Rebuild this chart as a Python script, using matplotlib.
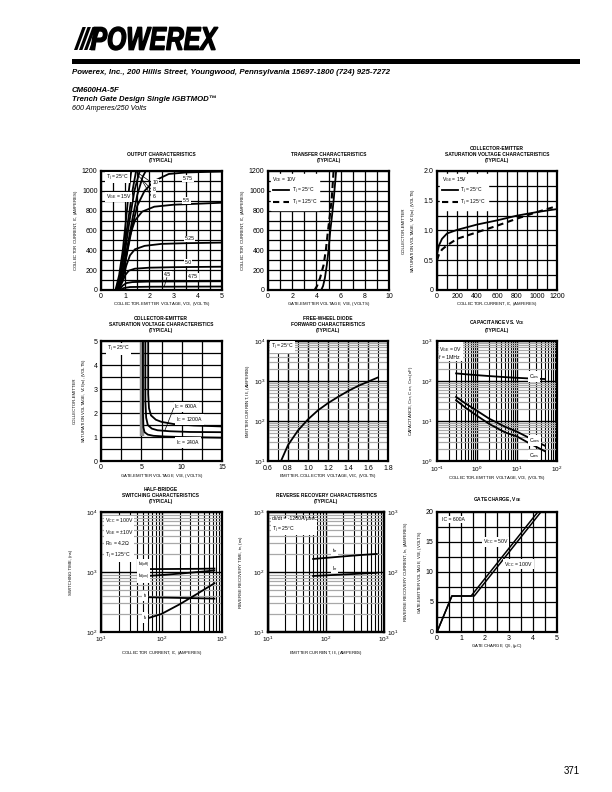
import matplotlib
matplotlib.use('Agg')
import matplotlib.pyplot as plt
from matplotlib.ticker import MultipleLocator, LogLocator, NullFormatter
from matplotlib.textpath import TextPath
from matplotlib.patches import PathPatch, Rectangle, Polygon
from matplotlib.font_manager import FontProperties
from matplotlib.transforms import Affine2D

plt.rcParams['font.family'] = ['Liberation Sans', 'DejaVu Sans']
plt.rcParams['mathtext.default'] = 'regular'

W, H = 612, 792

# ---- output characteristics, Tj = 25C ----
out_vce_15 = [0.6, 0.75, 0.9, 1.03, 1.15, 1.25]
out_ic_15 = [0, 150, 400, 700, 1000, 1200]
out_vce_10 = [0.62, 0.78, 0.95, 1.12, 1.3, 1.45]
out_ic_10 = [0, 150, 400, 700, 1000, 1200]
out_vce_8 = [0.64, 0.8, 1.0, 1.18, 1.38, 1.6]
out_ic_8 = [0, 150, 400, 700, 1000, 1200]
out_vce_6 = [0.66, 0.85, 1.08, 1.3, 1.5, 1.72, 1.85]
out_ic_6 = [0, 160, 420, 720, 960, 1140, 1200]
out_vce_575 = [0.68, 0.9, 1.1, 1.3, 1.5, 1.8, 2.2, 2.8, 3.5, 5.0]
out_ic_575 = [0, 150, 400, 650, 850, 1000, 1100, 1170, 1185, 1195]
out_vce_55 = [0.7, 0.9, 1.05, 1.2, 1.4, 1.7, 2.2, 3.0, 4.0, 5.0]
out_ic_55 = [0, 150, 350, 550, 700, 790, 840, 860, 870, 880]
out_vce_525 = [0.72, 0.9, 1.05, 1.2, 1.4, 1.8, 2.5, 3.5, 5.0]
out_ic_525 = [0, 120, 250, 350, 410, 445, 465, 472, 478]
out_vce_50 = [0.73, 0.9, 1.0, 1.15, 1.4, 2.0, 3.0, 5.0]
out_ic_50 = [0, 90, 150, 195, 215, 225, 230, 235]
out_vce_475 = [0.75, 0.9, 1.05, 1.3, 2.0, 5.0]
out_ic_475 = [0, 45, 70, 80, 85, 88]
out_vce_45 = [0.77, 0.95, 1.2, 2.0, 5.0]
out_ic_45 = [0, 20, 30, 33, 35]

# ---- transfer characteristics, VCE = 10V ----
tr_ic = [0, 40, 120, 250, 400, 590, 760, 925, 1200]
tr_vge_25 = [4.4, 4.55, 4.7, 4.86, 5.0, 5.14, 5.3, 5.44, 5.63]
tr_vge_125 = [3.85, 4.05, 4.3, 4.59, 4.78, 4.95, 5.12, 5.27, 5.42]

# ---- VCE(sat) vs IC ----
sat_ic = [0, 20, 50, 100, 200, 400, 600, 800, 1000, 1200]
sat_vce_25 = [0.6, 0.75, 0.86, 0.95, 1.01, 1.1, 1.17, 1.25, 1.31, 1.36]
sat_vce_125 = [0.5, 0.6, 0.68, 0.75, 0.86, 0.97, 1.08, 1.2, 1.31, 1.41]

# ---- VCE(sat) vs VGE ----
vs_vge_240 = [5.2, 5.2, 5.25, 5.4, 5.8, 6.5, 8.0, 10.0, 15.0]
vs_vce_240 = [5.0, 2.0, 1.4, 1.2, 1.1, 1.05, 1.02, 1.0, 0.97]
vs_vge_600 = [5.5, 5.5, 5.6, 5.8, 6.3, 7.0, 8.5, 11.0, 15.0]
vs_vce_600 = [5.0, 2.5, 1.8, 1.5, 1.35, 1.28, 1.24, 1.21, 1.2]
vs_vge_1200 = [5.85, 5.85, 5.95, 6.2, 6.8, 7.5, 9.0, 11.5, 15.0]
vs_vce_1200 = [5.0, 2.8, 2.2, 1.9, 1.72, 1.63, 1.54, 1.48, 1.44]
band_vge = [5.12, 5.12]
band_vce = [5.0, 1.05]

# ---- free-wheel diode forward ----
fwd_vec = [0.73, 0.8, 0.9, 1.0, 1.1, 1.2, 1.3, 1.4, 1.5, 1.6, 1.7]
fwd_ie = [10, 25, 58, 110, 185, 280, 400, 560, 750, 960, 1230]

# ---- capacitance ----
cap_vce = [0.3, 0.5, 1, 2, 5, 10, 20, 50]
cap_ies = [155, 148, 140, 133, 125, 120, 116, 112]
cap_oes = [40, 28, 18, 11.5, 7.2, 5.4, 3.8, 2.4]
cap_res = [33, 22, 13.5, 8.5, 5.2, 4.1, 2.8, 1.75]

# ---- half-bridge switching ----
sw_ic = [60, 100, 200, 400, 750]
sw_td_off = [1120, 1120, 1125, 1130, 1140]
sw_td_on = [860, 890, 940, 1000, 1060]
sw_tf = [380, 375, 370, 365, 360]
sw_tr = [170, 200, 290, 440, 650]

# ---- reverse recovery ----
rr_ie = [60, 100, 200, 400, 750]
rr_trr = [165, 172, 182, 192, 200]
rr_irr = [86, 88, 91, 94, 97]

# ---- gate charge ----
gc_q_50 = [0, 0.62, 1.42, 4.2]
gc_v_50 = [0, 6, 6, 20]
gc_q_100 = [0, 0.62, 1.55, 4.33]
gc_v_100 = [0, 6, 6, 20]

box = dict(facecolor='white', edgecolor='none', pad=0.6)
LW = 1.3


def add_axes_px(fig, x0, y0, x1, y1):
    return fig.add_axes([x0 / W, 1 - y1 / H, (x1 - x0) / W, (y1 - y0) / H])


def finish(ax, xlabel, ylabel, xlab_px, ylab_px, size=5):
    w = ax.get_position().width * W
    h = ax.get_position().height * H
    ax.set_xlabel(xlabel, fontsize=3.1, va='center')
    ax.set_ylabel(ylabel, fontsize=3.1, va='center', linespacing=1.6)
    ax.xaxis.set_label_coords(0.5, -xlab_px / h)
    ax.yaxis.set_label_coords(-ylab_px / w, 0.5)
    for s in ax.spines.values():
        s.set_linewidth(1.6)
    ax.tick_params(which='both', length=0, labelsize=size, pad=2.5)
    ax.tick_params(axis='x', pad=2.0 if size == 5 else 1.8)
    ax.set_axisbelow(True)


def lin_grid(ax, xstep, ystep):
    ax.xaxis.set_minor_locator(MultipleLocator(xstep))
    ax.yaxis.set_minor_locator(MultipleLocator(ystep))
    ax.grid(which='both', color='black', lw=0.9)


def log_grid(ax, xlog=True):
    if xlog:
        ax.xaxis.set_minor_locator(LogLocator(subs=range(2, 10)))
        ax.xaxis.set_minor_formatter(NullFormatter())
    ax.yaxis.set_minor_locator(LogLocator(subs=range(2, 10)))
    ax.yaxis.set_minor_formatter(NullFormatter())
    ax.grid(which='major', color='black', lw=1.0)
    ax.grid(which='minor', axis='x', color='black', lw=0.8)
    ax.grid(which='minor', axis='y', color='#a8a8a8', lw=0.9)


def title(fig, xc, top_px, text):
    fig.text(xc / W, 1 - (top_px - 8) / H, text, ha='center', va='bottom',
             fontsize=3.5, fontweight='bold', linespacing=1.3)


fig = plt.figure(figsize=(6.12, 7.92), dpi=100)

# ---- header ----
fp = FontProperties(family='Liberation Sans', weight='bold', style='italic')
tp = TextPath((0, 0), "POWEREX", size=10, prop=fp)
bb = tp.get_extents()
sx = (218 - 91) / W / bb.width
sy = (50 - 27) / H / bb.height
trf = Affine2D().translate(-bb.x0, -bb.y0).scale(sx, sy).translate(91 / W, 1 - 50 / H) + fig.transFigure
fig.patches.append(PathPatch(tp, transform=trf, facecolor='black', edgecolor='black', lw=1.0))
for k in range(4):
    x0 = 74 + k * 5.0
    pts = [(x0, 50), (x0 + 3.4, 50), (x0 + 3.4 + 8.5, 27), (x0 + 8.5, 27)]
    fig.patches.append(Polygon([(px / W, 1 - py / H) for px, py in pts], closed=True,
                               transform=fig.transFigure, facecolor='black', edgecolor='none'))
fig.patches.append(Rectangle((72 / W, 1 - 64 / H), (580 - 72) / W, 5 / H,
                             transform=fig.transFigure, facecolor='black', edgecolor='none'))
fig.text(72 / W, 1 - 72 / H,
         "Powerex, Inc., 200 Hillis Street, Youngwood, Pennsylvania 15697-1800 (724) 925-7272",
         fontsize=5.7, fontweight='bold', fontstyle='italic', va='center')
fig.text(72 / W, 1 - 91 / H, "CM600HA-5F", fontsize=5.6, fontweight='bold', fontstyle='italic', va='center')
fig.text(72 / W, 1 - 99.5 / H, "Trench Gate Design Single IGBTMOD\u2122", fontsize=5.6,
         fontweight='bold', fontstyle='italic', va='center')
fig.text(72 / W, 1 - 109 / H, "600 Amperes/250 Volts", fontsize=5.2, fontstyle='italic', va='center')
fig.text(572 / W, 1 - 771 / H, "371", fontsize=7, ha='center', va='center')

# ---- 1: output characteristics ----
ax = add_axes_px(fig, 101, 171, 222, 290)
for xs, ys in [(out_vce_15, out_ic_15), (out_vce_10, out_ic_10), (out_vce_8, out_ic_8),
               (out_vce_6, out_ic_6), (out_vce_575, out_ic_575), (out_vce_55, out_ic_55),
               (out_vce_525, out_ic_525), (out_vce_50, out_ic_50), (out_vce_475, out_ic_475),
               (out_vce_45, out_ic_45)]:
    ax.plot(xs, ys, color='black', lw=LW)
ax.set_xlim(0, 5)
ax.set_ylim(0, 1200)
ax.set_xticks(range(0, 6))
ax.set_yticks(range(0, 1201, 200))
lin_grid(ax, 0.5, 100)
ax.text(0.2, 1135, "T$_j$ = 25\u00b0C", fontsize=3.7, va='center', bbox=box)
ax.text(0.2, 940, "V$_{GE}$ = 15V", fontsize=3.7, va='center', bbox=box)
for lab, y, (xa, ya) in [("10", 1085, (1.45, 1195)), ("8", 1015, (1.55, 1150)), ("6", 945, (1.68, 1110))]:
    ax.plot([xa, 2.08], [ya, y], color='black', lw=0.5)
    ax.text(2.12, y, lab, fontsize=3.7, va='center', bbox=box)
for lab, x, y in [("5.75", 3.4, 1125), ("5.5", 3.4, 905), ("5.25", 3.45, 515),
                  ("5.0", 3.45, 275), ("4.75", 3.6, 135)]:
    ax.text(x, y, lab, fontsize=3.7, va='center', bbox=box)
ax.plot([2.72, 2.62], [125, 40], color='black', lw=0.5)
ax.text(2.6, 160, "4.5", fontsize=3.7, va='center', bbox=box)
finish(ax, "COLLECTOR-EMITTER VOLTAGE, V$_{CE}$, (VOLTS)", "COLLECTOR CURRENT, I$_C$, (AMPERES)", 14, 25)
title(fig, 161, 171, "OUTPUT CHARACTERISTICS\n(TYPICAL)")

# ---- 2: transfer characteristics ----
ax = add_axes_px(fig, 268, 171, 389, 290)
l1, = ax.plot(tr_vge_25, tr_ic, color='black', lw=LW)
l2, = ax.plot(tr_vge_125, tr_ic, color='black', lw=1.5, dashes=(3, 2))
ax.set_xlim(0, 10)
ax.set_ylim(0, 1200)
ax.set_xticks(range(0, 11, 2))
ax.set_yticks(range(0, 1201, 200))
lin_grid(ax, 1, 100)
ax.legend([l1, l2], ["T$_j$ = 25\u00b0C", "T$_j$ = 125\u00b0C"], title="V$_{CE}$ = 10V",
          loc='upper left', fontsize=3.6, title_fontsize=3.6, handlelength=3.2, frameon=True,
          fancybox=False, edgecolor='white', framealpha=1, borderpad=0.4, labelspacing=0.3,
          handletextpad=0.6, borderaxespad=0.5, alignment='left')
finish(ax, "GATE-EMITTER VOLTAGE, V$_{GE}$, (VOLTS)", "COLLECTOR CURRENT, I$_C$, (AMPERES)", 14, 25)
title(fig, 329, 171, "TRANSFER CHARACTERISTICS\n(TYPICAL)")

# ---- 3: VCE(sat) vs IC ----
ax = add_axes_px(fig, 437, 171, 557, 290)
l1, = ax.plot(sat_ic, sat_vce_25, color='black', lw=LW)
l2, = ax.plot(sat_ic, sat_vce_125, color='black', lw=1.5, dashes=(3, 2))
ax.set_xlim(0, 1200)
ax.set_ylim(0, 2.0)
ax.set_xticks(range(0, 1201, 200))
ax.set_yticks([0, 0.5, 1.0, 1.5, 2.0])
ax.set_yticklabels(["0", "0.5", "1.0", "1.5", "2.0"])
lin_grid(ax, 100, 0.25)
ax.legend([l1, l2], ["T$_j$ = 25\u00b0C", "T$_j$ = 125\u00b0C"], title="V$_{GE}$ = 15V",
          loc='upper left', fontsize=3.6, title_fontsize=3.6, handlelength=3.2, frameon=True,
          fancybox=False, edgecolor='white', framealpha=1, borderpad=0.4, labelspacing=0.3,
          handletextpad=0.6, borderaxespad=0.5, alignment='left')
finish(ax, "COLLECTOR-CURRENT, I$_C$, (AMPERES)",
       "COLLECTOR-EMITTER\nSATURATION VOLTAGE, V$_{CE(sat)}$, (VOLTS)", 14, 27.5)
title(fig, 497, 171, "COLLECTOR-EMITTER\nSATURATION VOLTAGE CHARACTERISTICS\n(TYPICAL)")

# ---- 4: VCE(sat) vs VGE ----
ax = add_axes_px(fig, 101, 341, 222, 461)
ax.plot(band_vge, band_vce, color='#8c8c8c', lw=3.2, solid_capstyle='butt')
for xs, ys in [(vs_vge_240, vs_vce_240), (vs_vge_600, vs_vce_600), (vs_vge_1200, vs_vce_1200)]:
    ax.plot(xs, ys, color='black', lw=LW)
ax.set_xlim(0, 15)
ax.set_ylim(0, 5)
ax.set_xticks([0, 5, 10, 15])
ax.set_yticks(range(0, 6))
lin_grid(ax, 2.5, 0.5)
ax.text(0.7, 4.65, "T$_j$ = 25\u00b0C", fontsize=3.7, va='center', bbox=box)
ax.plot([9.0, 7.9], [2.2, 1.26], color='black', lw=0.5)
ax.text(9.1, 2.25, "I$_C$ = 600A", fontsize=3.7, va='center', bbox=box)
ax.text(9.3, 1.74, "I$_C$ = 1200A", fontsize=3.7, va='center', bbox=box)
ax.text(9.3, 0.76, "I$_C$ = 240A", fontsize=3.7, va='center', bbox=box)
finish(ax, "GATE-EMITTER VOLTAGE, V$_{GE}$, (VOLTS)",
       "COLLECTOR-EMITTER\nSATURATION VOLTAGE, V$_{CE(sat)}$, (VOLTS)", 15, 20)
title(fig, 161, 341, "COLLECTOR-EMITTER\nSATURATION VOLTAGE CHARACTERISTICS\n(TYPICAL)")

# ---- 5: free-wheel diode ----
ax = add_axes_px(fig, 268, 341, 388, 461)
ax.plot(fwd_vec, fwd_ie, color='black', lw=LW)
ax.set_yscale('log')
ax.set_xlim(0.6, 1.8)
ax.set_ylim(10, 1e4)
ax.set_xticks([0.6, 0.8, 1.0, 1.2, 1.4, 1.6, 1.8])
ax.set_xticklabels(["0.6", "0.8", "1.0", "1.2", "1.4", "1.6", "1.8"])
ax.xaxis.set_minor_locator(MultipleLocator(0.1))
log_grid(ax, xlog=False)
ax.text(0.63, 7000, "T$_j$ = 25\u00b0C", fontsize=3.7, va='center', bbox=box)
finish(ax, "EMITTER-COLLECTOR VOLTAGE, V$_{EC}$, (VOLTS)", "EMITTER CURRENT, I$_E$, (AMPERES)", 15.5, 20)
ax.tick_params(axis='y', labelsize=4.6, pad=2.0)
ax.tick_params(axis='x', pad=3.0)
title(fig, 328, 341, "FREE-WHEEL DIODE\nFORWARD CHARACTERISTICS\n(TYPICAL)")

# ---- 6: capacitance ----
ax = add_axes_px(fig, 437, 341, 557, 461)
for ys in [cap_ies, cap_oes, cap_res]:
    ax.plot(cap_vce, ys, color='black', lw=LW)
ax.set_xscale('log')
ax.set_yscale('log')
ax.set_xlim(0.1, 100)
ax.set_ylim(1, 1000)
log_grid(ax)
ax.text(0.115, 800, "V$_{GE}$ = 0V\nf = 1MHz", fontsize=3.7, va='top', linespacing=1.4, bbox=box)
ax.text(20, 128, "C$_{ies}$", fontsize=3.7, va='center', bbox=box)
ax.text(20, 3.3, "C$_{oes}$", fontsize=3.7, va='center', bbox=box)
ax.text(20, 1.4, "C$_{res}$", fontsize=3.7, va='center', bbox=box)
finish(ax, "COLLECTOR-EMITTER VOLTAGE, V$_{CE}$, (VOLTS)",
       "CAPACITANCE, C$_{ies}$, C$_{oes}$, C$_{res}$ (nF)", 16.5, 26, size=4.6)
ax.tick_params(axis='y', pad=3.2)
ax.tick_params(axis='x', pad=2.4)
title(fig, 497, 341, "CAPACITANCE VS. V$_{CE}$\n(TYPICAL)")

# ---- 7: half-bridge switching ----
ax = add_axes_px(fig, 101, 512, 222, 632)
for ys in [sw_td_off, sw_td_on, sw_tf, sw_tr]:
    ax.plot(sw_ic, ys, color='black', lw=LW)
ax.set_xscale('log')
ax.set_yscale('log')
ax.set_xlim(10, 1000)
ax.set_ylim(100, 1e4)
log_grid(ax)
ax.text(11.5, 8500, "V$_{CC}$ = 100V\nV$_{GE}$ = \u00b110V\nR$_G$ = 4.2\u03a9\nT$_j$ = 125\u00b0C",
        fontsize=3.7, va='top', linespacing=1.45, bbox=box)
ax.text(51, 1300, "t$_{d(off)}$", fontsize=3.6, va='center', ha='center', bbox=box)
ax.text(51, 820, "t$_{d(on)}$", fontsize=3.6, va='center', ha='center', bbox=box)
ax.text(53, 400, "t$_f$", fontsize=3.6, va='center', ha='center', bbox=box)
ax.text(54, 175, "t$_r$", fontsize=3.6, va='center', ha='center', bbox=box)
finish(ax, "COLLECTOR CURRENT, I$_C$, (AMPERES)", "SWITCHING TIME, (ns)", 21, 30, size=4.6)
title(fig, 161, 512, "HALF-BRIDGE\nSWITCHING CHARACTERISTICS\n(TYPICAL)")

# ---- 8: reverse recovery ----
ax = add_axes_px(fig, 268, 512, 384, 632)
ax.plot(rr_ie, rr_trr, color='black', lw=LW)
ax.plot(rr_ie, rr_irr, color='black', lw=LW)
ax.set_xscale('log')
ax.set_yscale('log')
ax.set_xlim(10, 1000)
ax.set_ylim(10, 1000)
log_grid(ax)
ax.text(11.5, 850, "di/dt = -1200A/\u03bcsec\nT$_j$ = 25\u00b0C", fontsize=3.7, va='top',
        linespacing=1.5, bbox=box)
ax.text(140, 225, "t$_{rr}$", fontsize=3.7, va='center', ha='center', bbox=box)
ax.text(140, 116, "I$_{rr}$", fontsize=3.7, va='center', ha='center', bbox=box)
finish(ax, "EMITTER CURRENT, I$_E$, (AMPERES)", "REVERSE RECOVERY TIME, t$_{rr}$, (ns)", 21, 27, size=4.6)
ax2 = ax.twinx()
ax2.set_yscale('log')
ax2.set_ylim(10, 1000)
ax2.yaxis.set_minor_formatter(NullFormatter())
ax2.tick_params(which='both', length=0, labelsize=4.6, pad=2.5)
ax2.set_ylabel("REVERSE RECOVERY CURRENT, I$_{rr}$, (AMPERES)", fontsize=3.1, va='center')
ax2.yaxis.set_label_coords(1 + 22 / 116, 0.5)
for s in ax2.spines.values():
    s.set_linewidth(1.6)
title(fig, 326, 512, "REVERSE RECOVERY CHARACTERISTICS\n(TYPICAL)")

# ---- 9: gate charge ----
ax = add_axes_px(fig, 437, 512, 557, 632)
ax.plot(gc_q_50, gc_v_50, color='black', lw=1.1)
ax.plot(gc_q_100, gc_v_100, color='black', lw=1.1)
ax.set_xlim(0, 5)
ax.set_ylim(0, 20)
ax.set_xticks(range(0, 6))
ax.set_yticks(range(0, 21, 5))
lin_grid(ax, 0.5, 2.5)
ax.text(0.2, 18.7, "IC = 600A", fontsize=3.7, va='center', bbox=box)
ax.text(2.45, 15, "V$_{CC}$ = 50V", fontsize=3.7, va='center', ha='center', bbox=box)
ax.text(3.4, 11.3, "V$_{CC}$ = 100V", fontsize=3.7, va='center', ha='center', bbox=box)
finish(ax, "GATE CHARGE, Q$_G$, (\u03bcC)", "GATE-EMITTER VOLTAGE, V$_{GE}$, (VOLTS)", 14, 17)
title(fig, 497, 512, "GATE CHARGE, V$_{GE}$")

fig.savefig('out.png', dpi=100)
